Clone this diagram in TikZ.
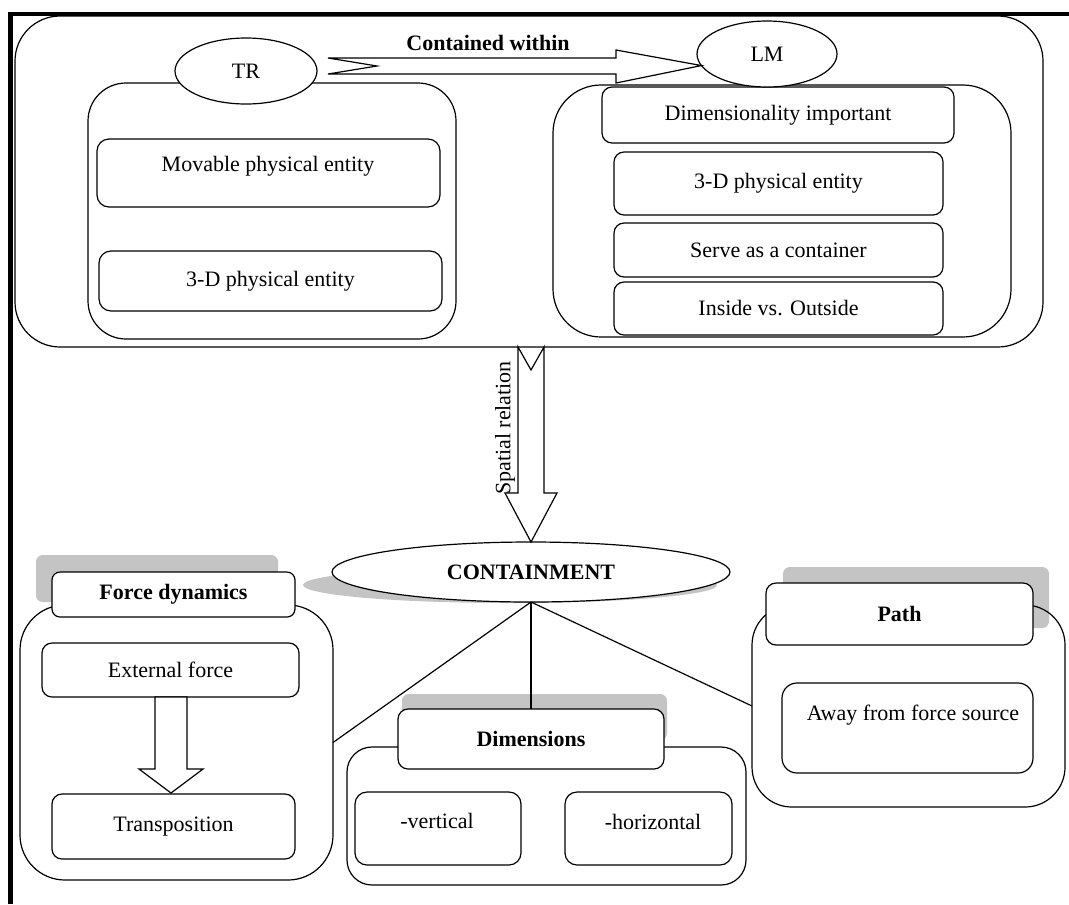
\documentclass[tikz,border=0pt]{standalone}
\usepackage{fontspec}
\setmainfont{Liberation Serif}
\usetikzlibrary{shapes.geometric}
\definecolor{shade}{RGB}{196,196,196}
\begin{document}
\begin{tikzpicture}[x=0.75pt,y=-0.75pt,
  line width=0.9pt,
  every node/.style={font=\fontsize{16.5}{19}\selectfont, inner sep=0pt, outer sep=0pt},
  bold/.style={font=\fontsize{16.5}{19}\selectfont\bfseries},
  sz/.style 2 args={minimum width=#1*0.75pt, minimum height=#2*0.75pt},
  box/.style={draw, fill=white, rectangle, rounded corners=#1},
  box/.default=7.5pt,
  panel/.style={draw, rectangle, rounded corners=#1},
  shadowbox/.style={fill=shade, rectangle, rounded corners=5pt},
  oval/.style={draw, fill=white, ellipse},
  blockarrow/.style={draw, fill=white, line join=miter}]
\useasboundingbox (0,0) rectangle (1069,904);

% page frame
\draw[line width=3.75pt] (10.5,904) -- (10.5,12);
\draw[line width=3pt] (8.5,14) -- (1069,14);

% ---- trajector / landmark panel ----
\node[panel=33.75pt, sz={1028}{331}] (top) at (529,181.5) {};
\node[panel=28.5pt, sz={368}{256}] (trPanel) at (272,211) {};
\node[box=9pt, sz={343}{68}] (trMov) at (268.5,173) {};
\node (trMovT) at (268,166) {Movable physical entity};
\node[box=9pt, sz={343}{60}] (trDim) at (270.5,281) {3-D physical entity};

\node[panel=36pt, sz={458}{252}] (lmPanel) at (782,211) {};
\node[box, sz={352}{56}] (lmImp) at (778,115) {Dimensionality important};
\node[box, sz={329}{63}] (lmDim) at (778.5,183.5) {3-D physical entity};
\node[box, sz={329}{54}] (lmCont) at (778.5,250) {Serve as a container};
\node[box, sz={329}{53}] (lmIO) at (778.5,308.5) {Inside vs. Outside};

\node[oval, sz={142}{66}] (TR) at (246,71) {TR};
\node[oval, sz={140}{66}] (LM) at (767,54) {LM};

% TR -> LM block arrow with notched tail
\coordinate (cwTip) at (LM.190);
\draw[blockarrow] (328,58) -- (616,58) -- (616,50) -- (cwTip) -- (616,83)
  -- (616,74) -- (328,74) -- (377,66) -- cycle;
\node[bold] (cwLabel) at (488,43) {Contained within};

% ---- central concept ----
\node[ellipse, fill=shade, sz={414}{36}] (contShade) at (510,585) {};
\node[oval, sz={398}{60}, bold] (CONT) at (531,572) {CONTAINMENT};

% spatial relation block arrow
\draw[blockarrow] (518,347) -- (531,370) -- (544,347) -- (544,493) -- (557,493)
  -- (CONT.north) -- (505,493) -- (518,493) -- cycle;
\node[rotate=90] (srLabel) at (505,428) {Spatial relation};

% ---- header shadows ----
\node[shadowbox, sz={242}{47}] (fdShade) at (157,578.5) {};
\node[shadowbox, sz={265}{46}] (dmShade) at (534.5,717) {};
\node[shadowbox, sz={266}{61}] (pShade) at (916,597.5) {};

% ---- group outlines ----
\node[panel=33.75pt, sz={313}{275}] (fdBox) at (176.5,742.5) {};
\node[panel=18.75pt, sz={399}{138}] (dmBox) at (546.5,816) {};
\node[panel=30pt, sz={313}{202}] (pBox) at (908.5,706) {};

% branches
\draw (CONT.south) -- (fdBox.east);
\draw (CONT.south) -- (531,709);
\draw (CONT.south) -- (pBox.west);

% ---- force dynamics ----
\node[box=6pt, sz={243}{45}, bold] (fdHead) at (173.5,594.5) {Force dynamics};
\node[box, sz={257}{54}] (ext) at (170.5,670) {External force};
\node[box, sz={243}{65}] (trans) at (173.5,826.5) {Transposition};
\draw[blockarrow] (155,697) -- (187,697) -- (187,769) -- (203,769) -- (171,793)
  -- (139,769) -- (155,769) -- cycle;

% ---- dimensions ----
\node[box, sz={266}{60}, bold] (dmHead) at (531,739) {Dimensions};
\node[box=9pt, sz={166}{73}] (vert) at (438,828.5) {};
\node (vertT) at (437,821) {-vertical};
\node[box=9pt, sz={167}{73}] (horiz) at (648.5,828.5) {};
\node (horizT) at (653,822) {-horizontal};

% ---- path ----
\node[box, sz={267}{62}, bold] (pHead) at (899.5,614) {Path};
\node[box=11.25pt, sz={251}{90}] (away) at (907.5,728) {};
\node (awayT) at (913,715) {Away from force source};
\end{tikzpicture}
\end{document}
